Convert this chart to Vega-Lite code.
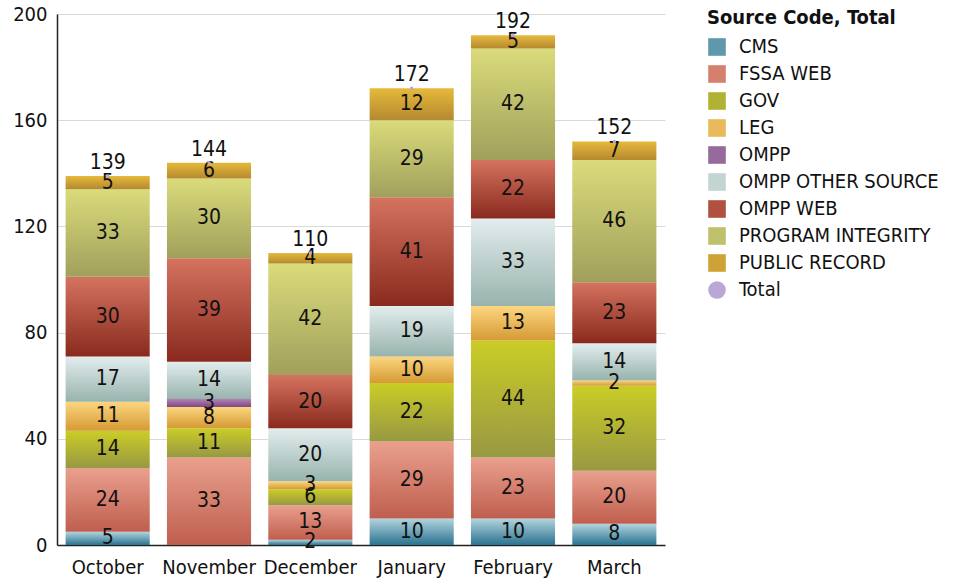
{
  "$schema": "https://vega.github.io/schema/vega-lite/v6.json",
  "width": 608,
  "height": 531,
  "padding": {"left": 57, "top": 14, "right": 291, "bottom": 36},
  "autosize": {"type": "none"},
  "background": "white",
  "config": {
    "font": "DejaVu Sans Condensed",
    "view": {"stroke": null},
    "legend": {
      "orient": "none",
      "legendX": 650,
      "legendY": -6,
      "titleFontSize": 20,
      "titleFontWeight": "bold",
      "titleColor": "#111111",
      "titlePadding": 9,
      "titleLimit": 400,
      "labelFontSize": 20,
      "labelColor": "#111111",
      "labelLimit": 400,
      "symbolSize": 310,
      "symbolStrokeWidth": 0,
      "symbolOpacity": 1,
      "rowPadding": 7,
      "labelOffset": 12,
      "padding": 0
    }
  },
  "params": [
    {
      "name": "grads",
      "value": {
        "CMS": {"gradient": "linear", "x1": 0, "y1": 0, "x2": 0, "y2": 1, "stops": [{"offset": 0, "color": "#b3d4de"}, {"offset": 1, "color": "#2a7390"}]},
        "FSSA WEB": {"gradient": "linear", "x1": 0, "y1": 0, "x2": 0, "y2": 1, "stops": [{"offset": 0, "color": "#eaa08e"}, {"offset": 1, "color": "#bf5e4e"}]},
        "GOV": {"gradient": "linear", "x1": 0, "y1": 0, "x2": 0, "y2": 1, "stops": [{"offset": 0, "color": "#cacd26"}, {"offset": 1, "color": "#989843"}]},
        "LEG": {"gradient": "linear", "x1": 0, "y1": 0, "x2": 0, "y2": 1, "stops": [{"offset": 0, "color": "#fcd680"}, {"offset": 1, "color": "#d59a34"}]},
        "OMPP": {"gradient": "linear", "x1": 0, "y1": 0, "x2": 0, "y2": 1, "stops": [{"offset": 0, "color": "#b383b7"}, {"offset": 1, "color": "#7a4a80"}]},
        "OMPP OTHER SOURCE": {"gradient": "linear", "x1": 0, "y1": 0, "x2": 0, "y2": 1, "stops": [{"offset": 0, "color": "#e2eded"}, {"offset": 1, "color": "#98b3ad"}]},
        "OMPP WEB": {"gradient": "linear", "x1": 0, "y1": 0, "x2": 0, "y2": 1, "stops": [{"offset": 0, "color": "#d4735f"}, {"offset": 1, "color": "#8a2a1e"}]},
        "PROGRAM INTEGRITY": {"gradient": "linear", "x1": 0, "y1": 0, "x2": 0, "y2": 1, "stops": [{"offset": 0, "color": "#dadb7a"}, {"offset": 1, "color": "#a0a05c"}]},
        "PUBLIC RECORD": {"gradient": "linear", "x1": 0, "y1": 0, "x2": 0, "y2": 1, "stops": [{"offset": 0, "color": "#e6b93c"}, {"offset": 1, "color": "#b5892f"}]}
      }
    }
  ],
  "data": {
    "values": [
      {"Month": "October", "Source": "CMS", "Count": 5},
      {"Month": "October", "Source": "FSSA WEB", "Count": 24},
      {"Month": "October", "Source": "GOV", "Count": 14},
      {"Month": "October", "Source": "LEG", "Count": 11},
      {"Month": "October", "Source": "OMPP OTHER SOURCE", "Count": 17},
      {"Month": "October", "Source": "OMPP WEB", "Count": 30},
      {"Month": "October", "Source": "PROGRAM INTEGRITY", "Count": 33},
      {"Month": "October", "Source": "PUBLIC RECORD", "Count": 5},
      {"Month": "November", "Source": "FSSA WEB", "Count": 33},
      {"Month": "November", "Source": "GOV", "Count": 11},
      {"Month": "November", "Source": "LEG", "Count": 8},
      {"Month": "November", "Source": "OMPP", "Count": 3},
      {"Month": "November", "Source": "OMPP OTHER SOURCE", "Count": 14},
      {"Month": "November", "Source": "OMPP WEB", "Count": 39},
      {"Month": "November", "Source": "PROGRAM INTEGRITY", "Count": 30},
      {"Month": "November", "Source": "PUBLIC RECORD", "Count": 6},
      {"Month": "December", "Source": "CMS", "Count": 2},
      {"Month": "December", "Source": "FSSA WEB", "Count": 13},
      {"Month": "December", "Source": "GOV", "Count": 6},
      {"Month": "December", "Source": "LEG", "Count": 3},
      {"Month": "December", "Source": "OMPP OTHER SOURCE", "Count": 20},
      {"Month": "December", "Source": "OMPP WEB", "Count": 20},
      {"Month": "December", "Source": "PROGRAM INTEGRITY", "Count": 42},
      {"Month": "December", "Source": "PUBLIC RECORD", "Count": 4},
      {"Month": "January", "Source": "CMS", "Count": 10},
      {"Month": "January", "Source": "FSSA WEB", "Count": 29},
      {"Month": "January", "Source": "GOV", "Count": 22},
      {"Month": "January", "Source": "LEG", "Count": 10},
      {"Month": "January", "Source": "OMPP OTHER SOURCE", "Count": 19},
      {"Month": "January", "Source": "OMPP WEB", "Count": 41},
      {"Month": "January", "Source": "PROGRAM INTEGRITY", "Count": 29},
      {"Month": "January", "Source": "PUBLIC RECORD", "Count": 12},
      {"Month": "February", "Source": "CMS", "Count": 10},
      {"Month": "February", "Source": "FSSA WEB", "Count": 23},
      {"Month": "February", "Source": "GOV", "Count": 44},
      {"Month": "February", "Source": "LEG", "Count": 13},
      {"Month": "February", "Source": "OMPP OTHER SOURCE", "Count": 33},
      {"Month": "February", "Source": "OMPP WEB", "Count": 22},
      {"Month": "February", "Source": "PROGRAM INTEGRITY", "Count": 42},
      {"Month": "February", "Source": "PUBLIC RECORD", "Count": 5},
      {"Month": "March", "Source": "CMS", "Count": 8},
      {"Month": "March", "Source": "FSSA WEB", "Count": 20},
      {"Month": "March", "Source": "GOV", "Count": 32},
      {"Month": "March", "Source": "LEG", "Count": 2},
      {"Month": "March", "Source": "OMPP OTHER SOURCE", "Count": 14},
      {"Month": "March", "Source": "OMPP WEB", "Count": 23},
      {"Month": "March", "Source": "PROGRAM INTEGRITY", "Count": 46},
      {"Month": "March", "Source": "PUBLIC RECORD", "Count": 7}
    ]
  },
  "encoding": {
    "x": {
      "field": "Month",
      "type": "nominal",
      "sort": ["October", "November", "December", "January", "February", "March"],
      "scale": {"paddingInner": 0.17, "paddingOuter": 0.085},
      "axis": {
        "title": null,
        "labelAngle": 0,
        "labelFontSize": 20,
        "labelColor": "#111111",
        "labelPadding": 12,
        "ticks": false,
        "domainColor": "#222222",
        "domainWidth": 1.5,
        "grid": false
      }
    }
  },
  "layer": [
    {
      "transform": [
        {"stack": "Count", "groupby": ["Month"], "sort": [{"field": "Source", "order": "ascending"}], "as": ["y0", "y1"]},
        {"calculate": "(datum.y0 + datum.y1) / 2", "as": "ymid"}
      ],
      "layer": [
        {
          "mark": {"type": "bar", "strokeWidth": 0, "fill": {"expr": "grads[datum.Source]"}},
          "encoding": {
            "y": {
              "field": "y0",
              "type": "quantitative",
              "scale": {"domain": [0, 200]},
              "axis": {
                "title": null,
                "values": [0, 40, 80, 120, 160, 200],
                "labelFontSize": 20,
                "labelColor": "#111111",
                "labelPadding": 10,
                "ticks": false,
                "domainColor": "#222222",
                "domainWidth": 1.5,
                "gridColor": "#d9d9d9",
                "gridWidth": 1.2
              }
            },
            "y2": {"field": "y1"}
          }
        },
        {
          "mark": {"type": "point", "filled": true, "opacity": 0, "size": 1},
          "encoding": {
            "y": {"field": "y1", "type": "quantitative"},
            "fill": {
              "field": "Source",
              "type": "nominal",
              "scale": {
                "domain": ["CMS", "FSSA WEB", "GOV", "LEG", "OMPP", "OMPP OTHER SOURCE", "OMPP WEB", "PROGRAM INTEGRITY", "PUBLIC RECORD", "Total"],
                "range": ["#5f97ad", "#d5806f", "#b0b234", "#eab95c", "#976a9c", "#c2d5d2", "#b0503f", "#c0c16c", "#cfa236", "#baa7d6"]
              },
              "legend": {"title": "Source Code, Total"}
            },
            "shape": {
              "field": "Source",
              "type": "nominal",
              "scale": {
                "domain": ["CMS", "FSSA WEB", "GOV", "LEG", "OMPP", "OMPP OTHER SOURCE", "OMPP WEB", "PROGRAM INTEGRITY", "PUBLIC RECORD", "Total"],
                "range": ["square", "square", "square", "square", "square", "square", "square", "square", "square", "circle"]
              },
              "legend": {"title": "Source Code, Total"}
            }
          }
        },
        {
          "mark": {"type": "text", "fontSize": 21, "color": "#111111", "baseline": "middle"},
          "encoding": {
            "y": {"field": "ymid", "type": "quantitative"},
            "text": {"field": "Count", "type": "quantitative"}
          }
        }
      ]
    },
    {
      "transform": [
        {"aggregate": [{"op": "sum", "field": "Count", "as": "Total"}], "groupby": ["Month"]}
      ],
      "layer": [
        {
          "mark": {"type": "point", "filled": true, "shape": "circle", "size": 12, "opacity": 1, "fill": "#b9a6d6"},
          "encoding": {
            "y": {"field": "Total", "type": "quantitative"}
          }
        },
        {
          "mark": {"type": "text", "fontSize": 21, "color": "#111111", "baseline": "bottom", "dy": -3},
          "encoding": {
            "y": {"field": "Total", "type": "quantitative"},
            "text": {"field": "Total", "type": "quantitative"}
          }
        }
      ]
    }
  ]
}
